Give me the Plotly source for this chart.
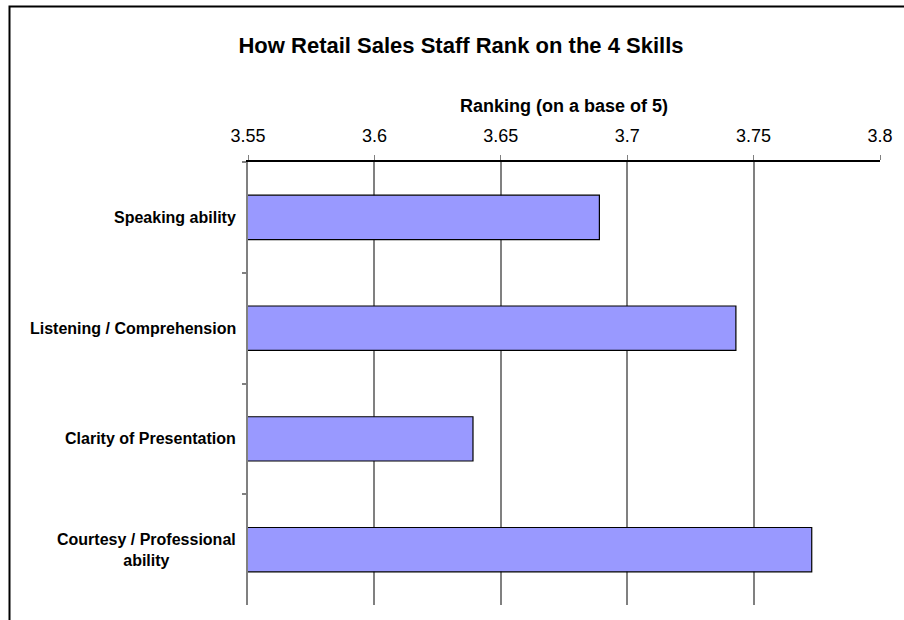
import plotly.graph_objects as go

# Survey skill rankings (scale of 5)
skills = ["Speaking ability", "Listening / Comprehension", "Clarity of Presentation",
          "Courtesy / Professional<br>ability"]
rankings = [3.689, 3.743, 3.639, 3.773]
tick_values = [3.55, 3.6, 3.65, 3.7, 3.75, 3.8]
tick_labels = ["3.55", "3.6", "3.65", "3.7", "3.75", "3.8"]

FONT = "Liberation Sans, Arial, sans-serif"
W, H = 904, 620
ML, MR, MT, MB = 248, 24, 162, 15
PW, PH = W - ML - MR, H - MT - MB


def px_to_paper_x(px):
    return (px - ML) / PW


def px_to_paper_y(py):
    return (H - MB - py) / PH


fig = go.Figure()
fig.add_trace(go.Bar(
    x=rankings, y=skills, orientation="h",
    marker=dict(color="#9999FF", line=dict(color="#000000", width=1.2)),
    showlegend=False, hoverinfo="x+y",
))

# Category labels, centred line by line and right-aligned to the axis
for name in skills:
    fig.add_annotation(
        x=px_to_paper_x(238), xref="paper", y=name, yref="y",
        xanchor="right", yanchor="middle", align="center",
        text=f"<b>{name}</b>", showarrow=False,
        font=dict(family=FONT, size=16, color="#000000"),
    )

# Chart area border
fig.add_shape(
    type="rect", xref="paper", yref="paper",
    x0=px_to_paper_x(9.5), x1=px_to_paper_x(915),
    y0=px_to_paper_y(640), y1=px_to_paper_y(6.5),
    line=dict(color="#000000", width=2), fillcolor="rgba(0,0,0,0)", layer="below",
)

fig.update_layout(
    width=W, height=H,
    margin=dict(l=ML, r=MR, t=MT, b=MB, pad=0),
    paper_bgcolor="#FFFFFF", plot_bgcolor="#FFFFFF",
    title=dict(
        text="<b>How Retail Sales Staff Rank on the 4 Skills</b>",
        x=461 / W, xanchor="center", y=1 - 45 / H, yanchor="middle",
        font=dict(family=FONT, size=22, color="#000000"),
    ),
    bargap=0.6,
    xaxis=dict(
        side="top", range=[3.55, 3.8],
        tickvals=tick_values, ticktext=tick_labels,
        tickfont=dict(family=FONT, size=18, color="#000000"),
        ticks="outside", ticklen=5, tickcolor="#808080", tickwidth=1,
        ticklabelstandoff=6,
        showline=True, linecolor="#000000", linewidth=1.5,
        showgrid=True, gridcolor="#808080", gridwidth=1.5,
        zeroline=False,
        title=dict(text="<b>Ranking (on a base of 5)</b>", standoff=9,
                   font=dict(family=FONT, size=18, color="#000000")),
    ),
    yaxis=dict(
        categoryorder="array", categoryarray=skills, autorange="reversed",
        showticklabels=False,
        ticks="outside", tickson="boundaries", ticklen=4, tickcolor="#808080", tickwidth=1.5,
        showline=True, linecolor="#808080", linewidth=2,
        showgrid=False, zeroline=False,
    ),
)

fig.write_html("out.html")
